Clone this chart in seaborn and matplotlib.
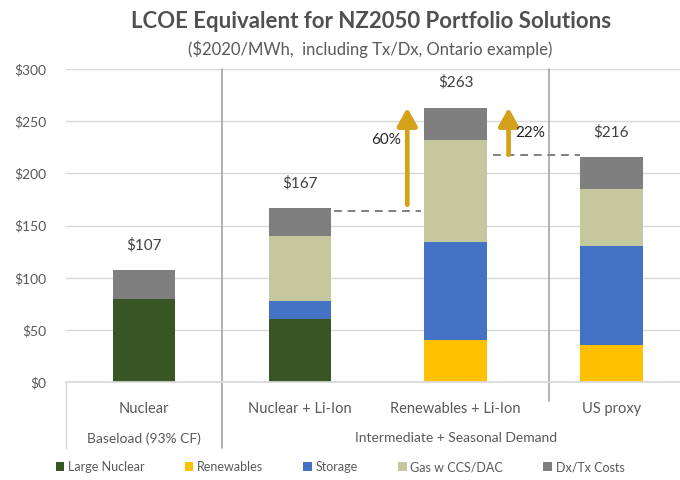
import matplotlib
matplotlib.use("Agg")
import matplotlib.pyplot as plt
from matplotlib.patches import Patch
import seaborn as sns
import pandas as pd
import numpy as np

# ---- data ----
categories = ["Nuclear", "Nuclear + Li-Ion", "Renewables + Li-Ion", "US proxy"]
large_nuclear = [80, 60, 0, 0]
renewables = [0, 0, 40, 36]
storage = [0, 18, 94, 94]
gas_ccs = [0, 62, 98, 55]
dxtx = [27, 27, 31, 31]
totals = [107, 167, 263, 216]
total_labels = ["$107", "$167", "$263", "$216"]
series_names = ["Large Nuclear", "Renewables", "Storage", "Gas w CCS/DAC", "Dx/Tx Costs"]
groups = ["Baseload (93% CF)", "Intermediate + Seasonal Demand"]
yticks = [0, 50, 100, 150, 200, 250, 300]
ytick_labels = ["$0", "$50", "$100", "$150", "$200", "$250", "$300"]
increase_labels = ["60%", "22%"]

colors = ["#375623", "#FFC000", "#4472C4", "#C4C89C", "#7F7F7F"]
gold = "#D4A21A"
txt = "#595959"

sns.set_theme(style="white")
plt.rcParams["font.family"] = ["Lato", "DejaVu Sans"]

layers = [large_nuclear, renewables, storage, gas_ccs, dxtx]
cum = np.cumsum(np.array(layers), axis=0)

fig = plt.figure(figsize=(6.8, 4.8), dpi=100)
ax = fig.add_axes([0.097, 0.204, 0.903, 0.652])

# draw from top layer (cumulative total) down so lower layers overlay
for i in range(len(layers) - 1, -1, -1):
    df = pd.DataFrame({"cat": categories, "val": cum[i]})
    sns.barplot(data=df, x="cat", y="val", order=categories, color=colors[i],
                saturation=1, width=0.4, ax=ax, errorbar=None, edgecolor="none")

ax.set_ylim(0, 300)
ax.set_xlim(-0.5, 3.44)
ax.set_yticks(yticks)
ax.set_yticklabels(ytick_labels, color=txt, fontsize=10)
ax.set_xlabel("")
ax.set_ylabel("")
ax.set_xticks(range(len(categories)))
ax.set_xticklabels(categories, color=txt, fontsize=10.5)
ax.tick_params(axis="x", length=0, pad=14)
ax.tick_params(axis="y", length=0, pad=14)
ax.yaxis.grid(True, color="#D9D9D9", lw=1)
ax.set_axisbelow(True)
for s in ["left", "right", "top"]:
    ax.spines[s].set_visible(False)
ax.spines["bottom"].set_color("#D9D9D9")

# value labels
for i, (t, lab) in enumerate(zip(totals, total_labels)):
    ax.text(i, t + 17, lab, ha="center", va="bottom", fontsize=11, color="#404040")

# separators
trans = ax.get_xaxis_transform()
ax.plot([0.5, 0.5], [1.0, -0.21], color="#A6A6A6", lw=1.2, transform=trans, clip_on=False)
ax.plot([2.6, 2.6], [1.0, -0.06], color="#A6A6A6", lw=1.2, transform=trans, clip_on=False)
ax.plot([-0.5, -0.5], [0, -0.21], color="#D9D9D9", lw=1, transform=trans, clip_on=False)

# group labels
ax.text(0, -0.18, groups[0], ha="center", va="center", transform=trans, fontsize=10, color=txt)
ax.text(2, -0.18, groups[1], ha="center", va="center", transform=trans, fontsize=10, color=txt)

# dashed connectors
ax.plot([1.22, 1.78], [totals[1] - 3, totals[1] - 3], ls=(0, (4, 3)), color="#808080", lw=1.4)
ax.plot([2.24, 2.8], [totals[3] + 2, totals[3] + 2], ls=(0, (4, 3)), color="#808080", lw=1.4)

# arrows
arrowprops = dict(arrowstyle="-|>,head_width=0.5,head_length=0.9", lw=3.4, color=gold,
                  shrinkA=0, shrinkB=0)
ax.annotate("", xy=(1.69, 263), xytext=(1.69, 170), arrowprops=arrowprops)
ax.annotate("", xy=(2.34, 263), xytext=(2.34, 218), arrowprops=arrowprops)
ax.text(1.65, 232, increase_labels[0], ha="right", va="center", fontsize=11, color="#262626")
ax.text(2.38, 239, increase_labels[1], ha="left", va="center", fontsize=11, color="#262626")

# titles
fig.text(0.545, 0.955, "LCOE Equivalent for NZ2050 Portfolio Solutions", ha="center", va="center",
         fontsize=16, fontweight="bold", color="#505050")
fig.text(0.545, 0.898, "($2020/MWh,  including Tx/Dx, Ontario example)", ha="center", va="center",
         fontsize=12, color=txt)

# legend
handles = [Patch(facecolor=c, edgecolor="none", label=n) for c, n in zip(colors, series_names)]
fig.legend(handles=handles, loc="center", bbox_to_anchor=(0.5, 0.027), ncol=5, frameon=False,
           fontsize=9, handlelength=0.7, handleheight=0.7, handletextpad=0.3, columnspacing=3.2,
           labelcolor=txt)

fig.savefig("out.png", dpi=100)
